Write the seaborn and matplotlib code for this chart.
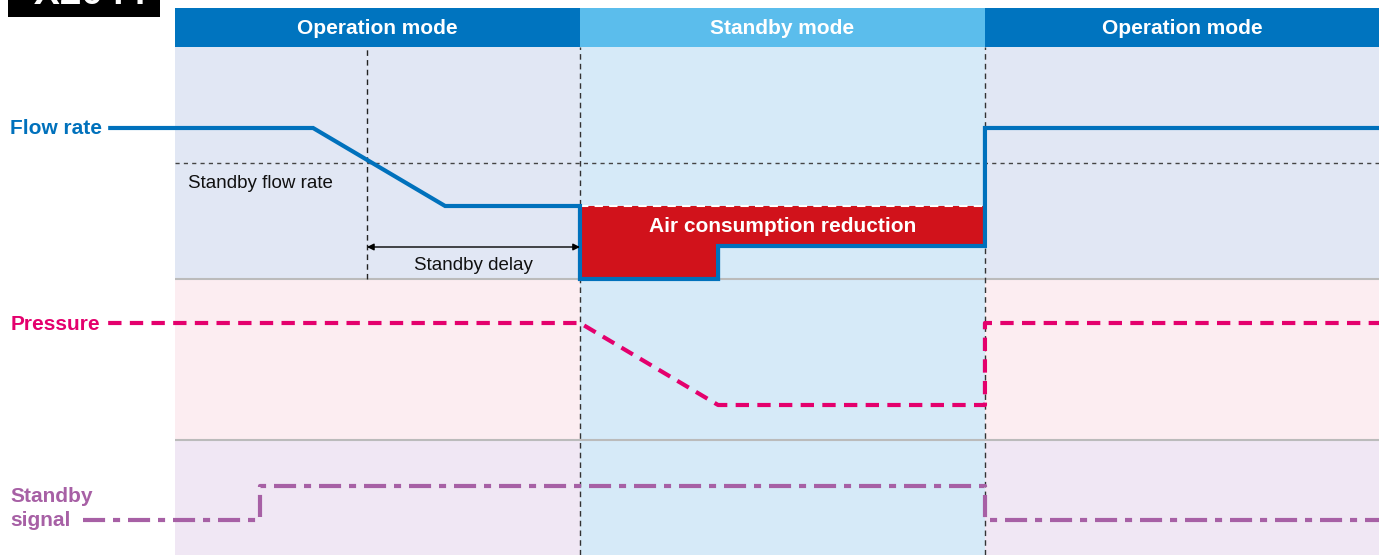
import numpy as np
import pandas as pd
import matplotlib.pyplot as plt
import seaborn as sns

# time in schematic units (10 units = one mode span), levels in chart units
mode_edges = [0, 10, 20, 29.73]
mode_names = ["Operation mode", "Standby mode", "Operation mode"]
delay_start = 4.74

flow_t = [-1.65, 3.41, 6.67, 10, 10, 13.41, 13.41, 20, 20, 29.73]
flow_y = [427, 427, 349, 349, 276, 276, 309, 309, 427, 427]
standby_flow = 392

press_t = [-1.65, 10, 13.41, 20, 20, 29.73]
press_y = [232, 232, 150, 150, 232, 232]

signal_t = [-2.27, 2.10, 2.10, 20, 20, 29.73]
signal_y = [35, 35, 69, 69, 35, 35]

# panel rows: (bottom, top)
panel_rows = {"flow": (276, 508), "pressure": (115, 276), "signal": (0, 115)}
header_row = (508, 547)

sns.set_theme(style="white")
plt.rcParams["font.family"] = ["Liberation Sans", "DejaVu Sans"]

fig = plt.figure(figsize=(13.79, 5.55), dpi=100)
ax = fig.add_axes([0, 0, 1, 1])
ax.set_xlim(-4.321, 29.73)
ax.set_ylim(0, 555)
ax.set_axis_off()

t0, t1 = mode_edges[0], mode_edges[-1]

# backgrounds
ax.fill_between([t0, t1], *panel_rows["flow"], color="#E1E7F4", lw=0)
ax.fill_between([t0, t1], *panel_rows["pressure"], color="#FCEDF1", lw=0)
ax.fill_between([t0, t1], *panel_rows["signal"], color="#F0E7F4", lw=0)
ax.fill_between([mode_edges[1], mode_edges[2]], 0, header_row[0], color="#D6EAF8", lw=0)

# header band
head_colors = ["#0074BF", "#5BBDEC", "#0074BF"]
for i, name in enumerate(mode_names):
    a, b = mode_edges[i], mode_edges[i + 1]
    ax.fill_between([a, b], *header_row, color=head_colors[i], lw=0)
    ax.text((a + b) / 2, 527, name, color="white", fontsize=15,
            fontweight="bold", ha="center", va="center")

# separators and guides
ax.hlines([panel_rows["flow"][0], panel_rows["pressure"][0]], t0, t1,
          color="#BBBBBB", lw=1.5)
ax.hlines(standby_flow, t0, t1, color="#444444", lw=1, ls=(0, (3, 3)))
ax.vlines(delay_start, panel_rows["flow"][0], header_row[0],
          color="#222222", lw=1, ls=(0, (4, 3)))
ax.vlines(mode_edges[1:3], 0, header_row[0], color="#333333", lw=1, ls=(0, (4, 3)))

# air consumption reduction area
red_t = flow_t[4:8]
red_y = flow_y[4:8]
ax.fill_between(red_t, flow_y[3], red_y, color="#D1121B", lw=0)
ax.hlines(flow_y[3], mode_edges[1], mode_edges[2], color="white", lw=1.5,
          ls=(0, (4, 3)))
ax.text(15, 328, "Air consumption reduction", color="white", fontsize=15,
        fontweight="bold", ha="center", va="center")

# signals
sns.lineplot(x=flow_t, y=flow_y, sort=False, estimator=None, color="#0071BC",
             lw=3, ax=ax, solid_joinstyle="miter", solid_capstyle="butt")
sns.lineplot(x=press_t, y=press_y, sort=False, estimator=None, color="#E4006D",
             lw=3, ax=ax, linestyle=(0, (3.2, 2.0)), dash_capstyle="butt")
sns.lineplot(x=signal_t, y=signal_y, sort=False, estimator=None, color="#A760A5",
             lw=3, ax=ax, linestyle=(0, (5.3, 1.9, 1.7, 1.9)), dash_capstyle="butt")

# annotations
ax.text(0.32, 372, "Standby flow rate", fontsize=13.5, color="#111111",
        ha="left", va="center")
ax.annotate("", xy=(mode_edges[1], 308), xytext=(delay_start, 308),
            arrowprops=dict(arrowstyle="<|-|>", color="black", lw=1,
                            mutation_scale=10, shrinkA=0, shrinkB=0))
ax.text((delay_start + mode_edges[1]) / 2, 290, "Standby delay", fontsize=13.5,
        color="#111111", ha="center", va="center")

# left labels
ax.text(-4.07, 427, "Flow rate", color="#0071BC", fontsize=15,
        fontweight="bold", va="center")
ax.text(-4.07, 230, "Pressure", color="#E4006D", fontsize=15,
        fontweight="bold", va="center")
ax.text(-4.07, 46.5, "Standby\nsignal", color="#A760A5", fontsize=15,
        fontweight="bold", va="center", linespacing=1.4)

# cut-off tag at top-left
ax.fill_between([-4.12, -0.37], 538, 560, color="black", lw=0)
ax.text(-2.25, 551, "-X2044", color="white", fontsize=28, fontweight="bold",
        ha="center", va="baseline", clip_on=True)

fig.savefig("out.png", dpi=100)
